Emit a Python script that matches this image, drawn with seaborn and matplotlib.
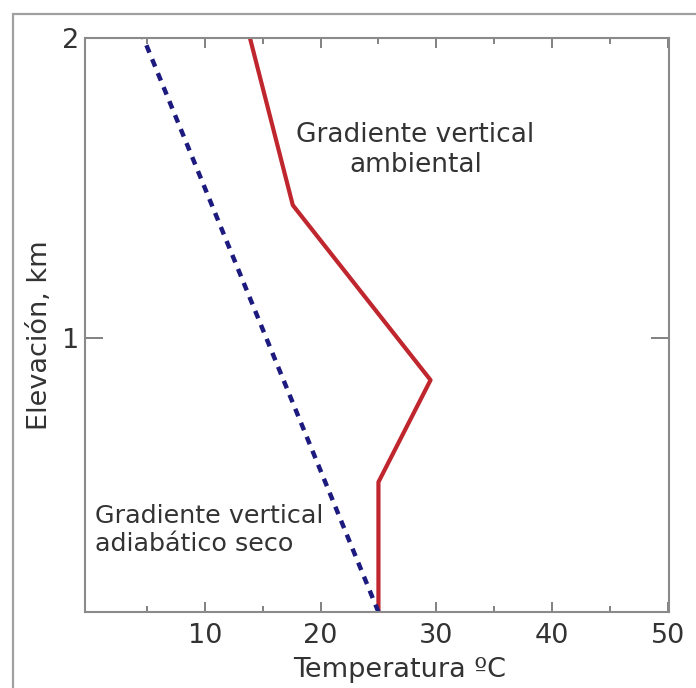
import matplotlib
matplotlib.use("Agg")
import matplotlib.pyplot as plt
from matplotlib.patches import Rectangle
from matplotlib.ticker import FixedLocator
import seaborn as sns

# Ambient lapse rate (red) and dry adiabatic lapse rate (dotted blue)
ambient_temp = [25.0, 25.0, 29.5, 17.6, 13.9]
ambient_elev = [0.087, 0.52, 0.86, 1.443, 2.0]
adiabatic_temp = [25.0, 4.7]
adiabatic_elev = [0.087, 2.0]

x_ticks = [10, 20, 30, 40, 50]
x_minor = [5, 15, 25, 35, 45]
y_ticks = [1, 2]

sns.set_style("ticks")
plt.rcParams['font.family'] = 'sans-serif'
plt.rcParams['font.sans-serif'] = ['DejaVu Sans']

fig = plt.figure(figsize=(6.96, 6.88), dpi=100)
ax = fig.add_axes([85 / 696, 1 - 612 / 688, 584 / 696, 574 / 688])

# outer gray frame
fig.patches.append(Rectangle((13 / 696, -0.05), 1.2, 1 - 14 / 688 + 0.05,
                             transform=fig.transFigure, fill=False,
                             edgecolor='#a0a0a0', linewidth=1.6))

sns.lineplot(x=ambient_temp, y=ambient_elev, sort=False, ax=ax,
             color='#c0262d', linewidth=3, estimator=None)
sns.lineplot(x=adiabatic_temp, y=adiabatic_elev, sort=False, ax=ax,
             color='#1c1a7e', linewidth=3.2, linestyle=(0, (1.8, 1.6)),
             estimator=None)

ax.set_xlim(-0.35, 50.1)
ax.set_ylim(0.087, 2.0)
ax.set_xticks(x_ticks)
ax.xaxis.set_minor_locator(FixedLocator(x_minor))
ax.set_yticks(y_ticks)

for s in ax.spines.values():
    s.set_color('#8a8a8a')
    s.set_linewidth(1.5)

ax.tick_params(axis='x', which='major', direction='in', length=7, width=1.3,
               color='#777777', top=True, labelsize=19.5, labelcolor='#333333', pad=8)
ax.tick_params(axis='x', which='minor', direction='in', length=4.5, width=1.3,
               color='#777777', top=True)
ax.tick_params(axis='y', which='major', direction='in', length=13, width=1.3,
               color='#777777', right=True, labelsize=19.5, labelcolor='#333333', pad=4)

ax.set_xlabel('Temperatura ºC', fontsize=19.5, color='#333333', labelpad=5.5,
              x=(400 - 85) / 584)
ax.set_ylabel('Elevación, km', fontsize=19.5, color='#333333', labelpad=6.5,
              y=(612 - 335) / 574)

ax.text(28.2, 1.627, 'Gradiente vertical\nambiental', ha='center', va='center',
        fontsize=19, color='#333333', linespacing=1.2)
ax.text(0.5, 0.36, 'Gradiente vertical\nadiabático seco', ha='left', va='center',
        fontsize=18.3, color='#333333', linespacing=1.25)

fig.savefig('out.png', dpi=100)
